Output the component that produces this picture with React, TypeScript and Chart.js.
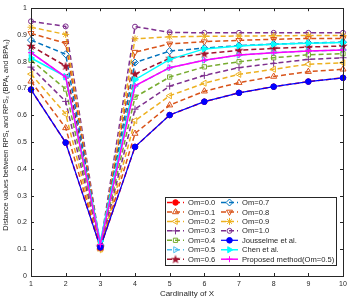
import React, { useEffect, useRef } from "react";
import { Chart, registerables } from "chart.js";
import { drawPoint } from "chart.js/helpers";

Chart.register(...registerables);

const cardinality = ["1", "2", "3", "4", "5", "6", "7", "8", "9", "10"];
const yTicks = [0, 0.1, 0.2, 0.3, 0.4, 0.5, 0.6, 0.7, 0.8, 0.9, 1];

const om00 = [0.696, 0.498, 0.107, 0.482, 0.601, 0.651, 0.684, 0.707, 0.726, 0.740];
const om01 = [0.727, 0.553, 0.103, 0.532, 0.638, 0.690, 0.722, 0.745, 0.763, 0.772];
const om02 = [0.754, 0.605, 0.100, 0.580, 0.673, 0.720, 0.753, 0.772, 0.791, 0.796];
const om03 = [0.780, 0.652, 0.104, 0.623, 0.709, 0.749, 0.778, 0.794, 0.809, 0.815];
const om04 = [0.806, 0.698, 0.108, 0.668, 0.743, 0.781, 0.800, 0.815, 0.826, 0.830];
const om05 = [0.834, 0.743, 0.118, 0.710, 0.778, 0.806, 0.825, 0.834, 0.840, 0.844];
const om06 = [0.859, 0.784, 0.110, 0.754, 0.813, 0.830, 0.843, 0.850, 0.855, 0.859];
const om07 = [0.881, 0.828, 0.112, 0.797, 0.840, 0.851, 0.860, 0.866, 0.870, 0.873];
const om08 = [0.906, 0.869, 0.112, 0.836, 0.867, 0.875, 0.880, 0.884, 0.887, 0.887];
const om09 = [0.929, 0.902, 0.100, 0.886, 0.893, 0.895, 0.896, 0.897, 0.898, 0.898];
const om10 = [0.951, 0.932, 0.112, 0.931, 0.910, 0.908, 0.908, 0.908, 0.908, 0.908];
const jousselme = [0.696, 0.498, 0.107, 0.482, 0.601, 0.651, 0.684, 0.707, 0.726, 0.740];
const chen = [0.814, 0.745, 0.130, 0.733, 0.809, 0.848, 0.859, 0.865, 0.869, 0.872];
const proposed = [0.834, 0.743, 0.118, 0.710, 0.778, 0.806, 0.825, 0.834, 0.840, 0.844];

const AX = "#262626";
const FONT = "'Liberation Sans', Arial, sans-serif";

function makePentagram(color: string) {
  const c = document.createElement("canvas");
  c.width = 10;
  c.height = 10;
  const g = c.getContext("2d")!;
  g.beginPath();
  for (let i = 0; i < 10; i++) {
    const r = i % 2 === 0 ? 4.8 : 2;
    const a = -Math.PI / 2 + (i * Math.PI) / 5;
    const x = 5 + r * Math.cos(a);
    const y = 5.3 + r * Math.sin(a);
    if (i === 0) g.moveTo(x, y);
    else g.lineTo(x, y);
  }
  g.closePath();
  g.fillStyle = color;
  g.fill();
  return c;
}

function dashed(label: string, data: number[], color: string, style: any, extra: any = {}) {
  return {
    label,
    data,
    borderColor: color,
    backgroundColor: "rgba(0,0,0,0)",
    borderWidth: 1.5,
    borderDash: [5, 3],
    pointStyle: style,
    pointRadius: 3,
    pointBorderWidth: 1,
    pointBorderColor: color,
    pointBackgroundColor: "rgba(0,0,0,0)",
    order: 5,
    ...extra,
  };
}

const framePlugin = {
  id: "frame",
  afterDraw(chart: any) {
    const { ctx, chartArea: ca, scales } = chart;
    const xs = scales.x;
    const ys = scales.y;
    ctx.save();
    ctx.strokeStyle = AX;
    ctx.lineWidth = 1;
    ctx.setLineDash([]);
    ctx.strokeRect(Math.round(ca.left) + 0.5, Math.round(ca.top) + 0.5, Math.round(ca.right - ca.left), Math.round(ca.bottom - ca.top));
    const tl = 3;
    ctx.beginPath();
    cardinality.forEach((_, i) => {
      const px = Math.round(xs.getPixelForValue(i)) + 0.5;
      ctx.moveTo(px, ca.bottom);
      ctx.lineTo(px, ca.bottom - tl);
      ctx.moveTo(px, ca.top);
      ctx.lineTo(px, ca.top + tl);
    });
    yTicks.forEach((v) => {
      const py = Math.round(ys.getPixelForValue(v)) + 0.5;
      ctx.moveTo(ca.left, py);
      ctx.lineTo(ca.left + tl, py);
      ctx.moveTo(ca.right, py);
      ctx.lineTo(ca.right - tl, py);
    });
    ctx.stroke();

    // legend
    const bx = ca.right - 178;
    const by = ca.bottom - 79;
    const bw = 171;
    const bh = 68;
    ctx.fillStyle = "#ffffff";
    ctx.fillRect(bx, by, bw, bh);
    ctx.strokeStyle = AX;
    ctx.lineWidth = 1;
    ctx.strokeRect(Math.round(bx) + 0.5, Math.round(by) + 0.5, bw, bh);
    ctx.font = `7.6px ${FONT}`;
    ctx.textBaseline = "middle";
    ctx.textAlign = "left";
    chart.data.datasets.forEach((ds: any, i: number) => {
      const col = i < 7 ? 0 : 1;
      const row = i < 7 ? i : i - 7;
      const x0 = bx + 2 + col * 54;
      const y0 = by + 5.5 + row * 9.45;
      ctx.strokeStyle = ds.borderColor;
      ctx.lineWidth = ds.borderWidth;
      ctx.setLineDash(ds.borderDash || []);
      ctx.beginPath();
      ctx.moveTo(x0, y0);
      ctx.lineTo(x0 + 17, y0);
      ctx.stroke();
      ctx.setLineDash([]);
      ctx.strokeStyle = ds.pointBorderColor;
      ctx.fillStyle = ds.pointBackgroundColor;
      ctx.lineWidth = ds.pointBorderWidth;
      drawPoint(ctx, { pointStyle: ds.pointStyle, rotation: ds.pointRotation || 0, radius: ds.pointRadius, borderWidth: ds.pointBorderWidth }, x0 + 8.5, y0);
      ctx.fillStyle = AX;
      ctx.fillText(ds.label, x0 + 21, y0 + 0.5);
    });
    ctx.restore();
  },
};

export default function App() {
  const ref = useRef<HTMLCanvasElement | null>(null);
  useEffect(() => {
    const star = makePentagram("#A2142F");
    const datasets: any[] = [
      dashed("Om=0.0", om00, "#FF0000", "circle", { pointBackgroundColor: "#FF0000", pointRadius: 2.8 }),
      dashed("Om=0.1", om01, "#D95319", "triangle", { pointRadius: 3.5 }),
      dashed("Om=0.2", om02, "#EDB120", "triangle", { pointRotation: -90, pointRadius: 3.5 }),
      dashed("Om=0.3", om03, "#7E2F8E", "cross", { pointRadius: 3.5 }),
      dashed("Om=0.4", om04, "#77AC30", "rect", { pointRadius: 3 }),
      dashed("Om=0.5", om05, "#4DBEEE", "triangle", { pointRotation: 90, pointRadius: 3.5 }),
      dashed("Om=0.6", om06, "#A2142F", star, {}),
      dashed("Om=0.7", om07, "#0072BD", "rectRot", { pointRadius: 3.5 }),
      dashed("Om=0.8", om08, "#D95319", "triangle", { pointRotation: 180, pointRadius: 3.5 }),
      dashed("Om=0.9", om09, "#EDB120", "star", { pointRadius: 3.5 }),
      dashed("Om=1.0", om10, "#7E2F8E", "circle", { pointRadius: 2.5 }),
      {
        label: "Jousselme et al.",
        data: jousselme,
        borderColor: "#0000FF",
        borderWidth: 1.2,
        borderDash: [],
        pointStyle: "circle",
        pointRadius: 2.8,
        pointBorderWidth: 1,
        pointBorderColor: "#0000FF",
        pointBackgroundColor: "#0000FF",
        order: 2,
      },
      {
        label: "Chen et al.",
        data: chen,
        borderColor: "#00FFFF",
        borderWidth: 1.5,
        borderDash: [],
        pointStyle: "triangle",
        pointRotation: 90,
        pointRadius: 3.5,
        pointBorderWidth: 1,
        pointBorderColor: "#00FFFF",
        pointBackgroundColor: "#00FFFF",
        order: 1,
      },
      {
        label: "Proposed method(Om=0.5)",
        data: proposed,
        borderColor: "#FF00FF",
        borderWidth: 1.5,
        borderDash: [],
        pointStyle: "cross",
        pointRadius: 3,
        pointBorderWidth: 1,
        pointBorderColor: "#FF00FF",
        pointBackgroundColor: "#FF00FF",
        order: 0,
      },
    ];
    const chart = new Chart(ref.current!, {
      type: "line",
      data: { labels: cardinality, datasets },
      plugins: [framePlugin],
      options: {
        animation: false,
        responsive: false,
        devicePixelRatio: 1,
        layout: { padding: { left: 0, right: 14, top: 7, bottom: 0 } },
        plugins: { legend: { display: false }, tooltip: { enabled: false } },
        elements: { line: { tension: 0, fill: false } },
        scales: {
          x: {
            type: "category",
            offset: false,
            grid: { display: false, drawTicks: false },
            border: { display: false },
            ticks: { autoSkip: false, maxRotation: 0, padding: 3.5, color: AX, font: { size: 7, family: FONT } },
            title: { display: true, text: "Cardinality of X", color: AX, font: { size: 8, family: FONT }, padding: { top: 0, bottom: 3.5 } },
            afterFit: (s: any) => {
              s.height = 26;
            },
          },
          y: {
            type: "linear",
            min: 0,
            max: 1,
            grid: { display: false, drawTicks: false },
            border: { display: false },
            afterBuildTicks: (s: any) => {
              s.ticks = yTicks.map((v) => ({ value: v }));
            },
            ticks: {
              padding: 4,
              color: AX,
              font: { size: 7, family: FONT },
              callback: (v: any) => String(Math.round(Number(v) * 10) / 10),
            },
            title: {
              display: true,
              text: "       Distance values between RPS₁ and RPS₃ (BPA₁ and BPA₃)",
              color: AX,
              font: { size: 7.3, family: FONT },
              padding: { top: 2, bottom: 0 },
            },
            afterFit: (s: any) => {
              s.width = 31;
            },
          },
        },
      },
    } as any);
    return () => chart.destroy();
  }, []);
  return (
    <div style={{ position: "fixed", left: 0, top: 0, width: 357, height: 302, background: "#fff" }}>
      <canvas ref={ref} width={357} height={302} style={{ display: "block" }} />
    </div>
  );
}
